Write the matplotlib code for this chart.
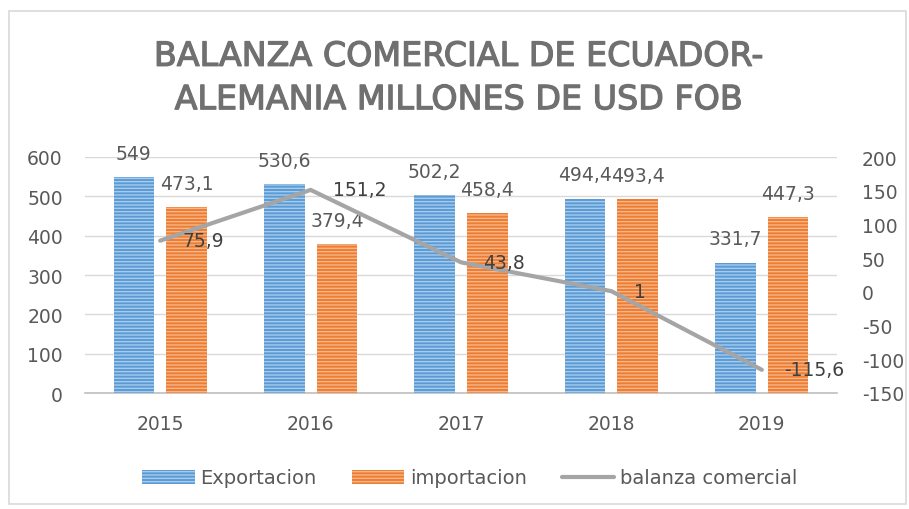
import matplotlib.pyplot as plt
import matplotlib.patheffects as pe
import numpy as np
from matplotlib.patches import Rectangle

years        = ['2015', '2016', '2017', '2018', '2019']
exportacion  = [549, 530.6, 502.2, 494.4, 331.7]
importacion  = [473.1, 379.4, 458.4, 493.4, 447.3]
balanza      = [75.9, 151.2, 43.8, 1, -115.6]

BLUE, BLUE_H = '#5B9BD5', '#A7CBEC'
ORANGE, ORANGE_H = '#ED7D31', '#F6B68A'
GRAY = '#A5A5A5'
TXT = '#595959'

plt.rcParams.update({'font.family': ['DejaVu Sans'], 'hatch.linewidth': 1.0,
                     'axes.unicode_minus': False})

def fmt(v):
    return f'{v:g}'.replace('.', ',')

fig = plt.figure(figsize=(9.09, 5.10), dpi=100)
ax = fig.add_axes([85/909, 1 - 394/510, (837-85)/909, (394-158)/510])
ax2 = ax.twinx()

x = np.arange(len(years))
w, off = 0.27, 0.175
b1 = ax.bar(x - off, exportacion, w, color=BLUE, edgecolor=BLUE_H, hatch='-----',
            linewidth=0, zorder=3, label='Exportacion')
b2 = ax.bar(x + off, importacion, w, color=ORANGE, edgecolor=ORANGE_H, hatch='-----',
            linewidth=0, zorder=3, label='importacion')

for bars, vals in [(b1, exportacion), (b2, importacion)]:
    for bar, v in zip(bars, vals):
        ax.annotate(fmt(v), (bar.get_x() + bar.get_width()/2, v), xytext=(0, 17),
                    textcoords='offset points', ha='center', va='center',
                    fontsize=13.5, color=TXT, zorder=5)

ln, = ax2.plot(x, balanza, color=GRAY, linewidth=3, zorder=4, label='balanza comercial',
               solid_capstyle='round')
for xi, v in zip(x, balanza):
    ax2.annotate(fmt(v), (xi, v), xytext=(16, 0), textcoords='offset points',
                 ha='left', va='center', fontsize=13.5, color='#404040', zorder=5)

ax.set_xlim(-0.5, 4.5)
ax.set_ylim(0, 600)
ax.set_yticks(range(0, 601, 100))
ax2.set_ylim(-150, 200)
ax2.set_yticks(range(-150, 201, 50))
ax.set_xticks(x)
ax.set_xticklabels(years)

ax.yaxis.grid(True, color='#D9D9D9', linewidth=1, zorder=0)
ax.set_axisbelow(True)
for a in (ax, ax2):
    for s in a.spines.values():
        s.set_visible(False)
    a.tick_params(length=0, labelsize=13.5, colors=TXT)
ax.spines['bottom'].set_visible(True)
ax.spines['bottom'].set_color('#BFBFBF')
ax.spines['bottom'].set_linewidth(1.2)
ax.tick_params(axis='y', pad=16)
ax.tick_params(axis='x', pad=15)
ax2.tick_params(axis='y', pad=18)
ax2.set_zorder(ax.get_zorder() + 1)
ax2.patch.set_visible(False)

fig.text(0.505, 1 - 79/510, 'BALANZA COMERCIAL DE ECUADOR-\nALEMANIA MILLONES DE USD FOB',
         ha='center', va='center', fontsize=24, color='#707070', linespacing=1.4,
         path_effects=[pe.withStroke(linewidth=0.9, foreground='#707070')])

fig.legend(handles=[b1, b2, ln], loc='center', bbox_to_anchor=(0.517, 1 - 479/510),
           ncol=3, frameon=False, fontsize=14, labelcolor=TXT, handlelength=2.7,
           columnspacing=1.8, handletextpad=0.3)

fig.patches.append(Rectangle((9/909, 5/510), 1 - 12/909, 1 - 17/510, transform=fig.transFigure,
                             fill=False, edgecolor='#D9D9D9', linewidth=1.2))

fig.savefig('out.png', dpi=100, facecolor='white')
